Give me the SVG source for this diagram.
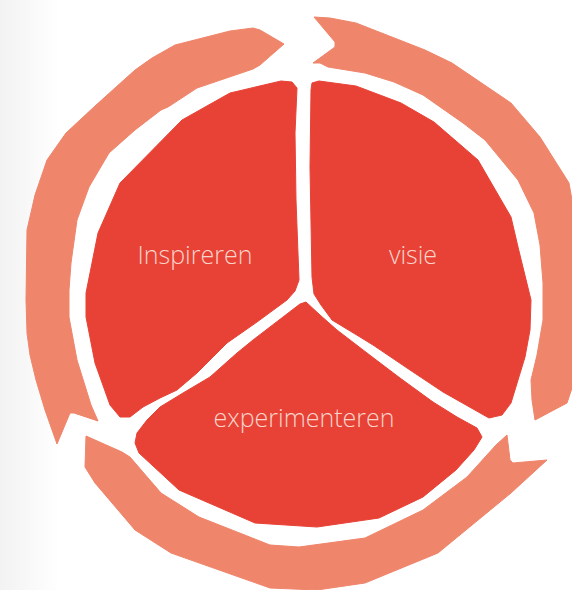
<svg xmlns="http://www.w3.org/2000/svg" width="572" height="590" viewBox="0 0 572 590">
<defs>
<linearGradient id="bg" x1="0" y1="0" x2="1" y2="0">
<stop offset="0" stop-color="#f2f2f2"/>
<stop offset="1" stop-color="#ffffff"/>
</linearGradient>
<style>
.ring{fill:#EF856B;stroke:#EF856B;stroke-width:1;stroke-linejoin:round}
.seg{fill:#E84236;stroke:#E84236;stroke-width:1;stroke-linejoin:round}
.lbl{font-family:"Open Sans","Liberation Sans",sans-serif;font-weight:300;font-size:25px;fill:#F8D4CB;text-anchor:middle}
</style>
</defs>
<rect width="572" height="590" fill="#ffffff"/>
<rect width="60" height="590" fill="url(#bg)"/>
<g id="connectors">
<path id="arc-top-left" class="ring" d="M284,44 L260,30 L253,28 L230,31 L175,45 L152,58 L135,70 L115,88 L95,106 L66,133 L47,160 L35,195 L27,230 L26,300 L27,333 L30,355 L36,380 L45,410 L57,444 L70,413 L74,413 L98,421 L91,405 L77,360 L69,317 L69,290 L71,263 L77,220 L89,187 L109,153 L135,130 L161,110 L168,107 L197,88 L253,69 L260,65 Z"/>
<path id="arc-top-right" class="ring" d="M314,17 L335,42 L335,47 L313,63 L320,63 L328,67 L365,73 L394,82 L423,95 L463,123 L485,140 L518,180 L534,213 L540,245 L543,283 L543,320 L537,355 L531,380 L532,400 L535,420 L567,403 L572,388 L574,290 L572,200 L569,183 L540,137 L511,103 L452,63 L425,50 L356,23 L330,18 Z"/>
<path id="arc-bottom" class="ring" d="M86,436 L122,452 L130,457 L161,493 L199,517 L270,545 L299,547 L365,538 L423,510 L467,477 L496,445 L507,435 L510,460 L513,463 L547,460 L511,493 L438,553 L365,583 L317,590 L270,588 L171,553 L135,530 L95,483 L85,467 Z"/>
</g>
<g id="node-inspireren">
<path class="seg" d="M292,82 L281,81 L230,93 L182,120 L120,183 L98,233 L86,293 L86,317 L95,363 L110,405 L120,417 L130,417 L143,407 L160,398 L177,390 L197,373 L227,343 L257,322 L287,300 L295,291 L299,280 L296,200 L295,133 L297,88 Z"/>
<text class="lbl" x="195" y="264">Inspireren</text>
</g>
<g id="node-visie">
<path class="seg" d="M312,83 L319,81 L356,86 L401,103 L434,122 L478,160 L511,217 L518,247 L531,300 L530,330 L525,357 L511,403 L502,415 L489,418 L443,392 L410,370 L373,345 L360,337 L332,320 L321,305 L314,294 L312,277 L310,167 L311,90 Z"/>
<text class="lbl" x="413" y="264">visie</text>
</g>
<g id="node-experimenteren">
<path class="seg" d="M306,302 L320,315 L337,330 L367,353 L400,378 L433,402 L457,417 L477,428 L482,437 L474,450 L456,470 L423,497 L379,518 L317,527 L255,523 L179,490 L139,453 L135,443 L137,433 L147,420 L160,407 L183,393 L210,377 L237,353 L253,340 L283,317 L300,304 Z"/>
<text class="lbl" x="304" y="427">experimenteren</text>
</g>
</svg>
